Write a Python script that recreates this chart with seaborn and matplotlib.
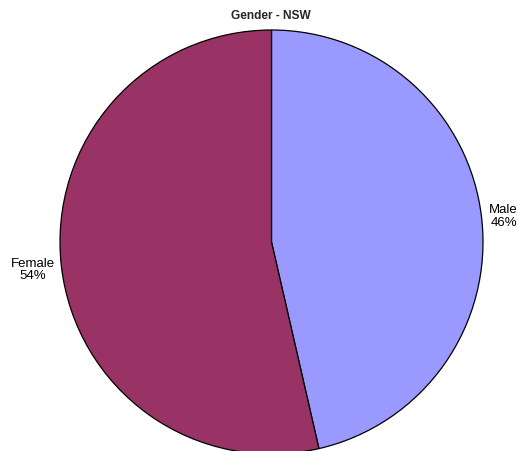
import matplotlib
matplotlib.use('Agg')
import matplotlib.pyplot as plt
import seaborn as sns

categories = ['Male', 'Female']
shares = [46.4, 53.6]
colours = ['#9999FF', '#993366']

sns.set_theme(style='white')
plt.rcParams['font.family'] = ['Liberation Sans', 'DejaVu Sans']

fig = plt.figure(figsize=(5.18, 4.52), dpi=100)
fig.patch.set_facecolor('white')
ax = fig.add_axes([60 / 518, -3 / 452, 423 / 518, 424 / 452])

labels = [f'{c}\n{round(v)}%' for c, v in zip(categories, shares)]
wedges, texts = ax.pie(
    shares, labels=labels, colors=colours, startangle=90, counterclock=False,
    labeldistance=1.0, wedgeprops=dict(edgecolor='black', linewidth=0.9),
    textprops=dict(fontsize=9.5, color='black'),
)
# push labels out a little further on the wider (left) side
for t, dist in zip(texts, [1.105, 1.135]):
    x, y = t.get_position()
    t.set_position((x * dist, y * dist))
    t.set_ha('center')
    t.set_va('center')
    t.set_linespacing(1.05)

ax.set_aspect('auto')
ax.set_xlim(-1, 1)
ax.set_ylim(-1, 1)
ax.axis('off')

fig.text(271 / 518, 1 - 16 / 452, 'Gender - NSW', ha='center', va='center',
         fontsize=8.6, fontweight='bold')

fig.savefig('out.png', dpi=100)
